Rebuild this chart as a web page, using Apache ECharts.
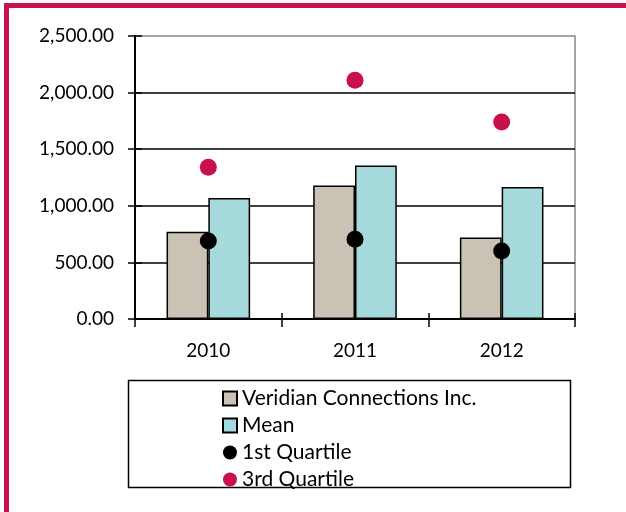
<!DOCTYPE html>
<html>
<head>
<meta charset="utf-8">
<style>
  html, body { margin: 0; padding: 0; background: #fff; }
  #chart { width: 626px; height: 512px; }
</style>
<script src="https://cdn.jsdelivr.net/npm/echarts@6/dist/echarts.min.js"></script>
</head>
<body>
<div id="chart"></div>
<script>
// Years on the category axis
const years = ['2010', '2011', '2012'];

// Series values per year
const veridian = [770, 1180, 720];
const mean = [1070, 1355, 1165];
const quartile1 = [690, 705, 600];
const quartile3 = [1340, 2110, 1740];

// Value axis range
const yMin = 0;
const yMax = 2500;
const yStep = 500;

const FONT = 'Lato';
const CRIMSON = '#c8104a';

function fmt(v) {
  return Number(v).toLocaleString('en-US', { minimumFractionDigits: 2, maximumFractionDigits: 2 });
}

const chart = echarts.init(document.getElementById('chart'), null, { renderer: 'canvas' });

chart.setOption({
  animation: false,
  backgroundColor: '#fff',
  textStyle: { fontFamily: FONT, color: '#000' },
  graphic: [
    // Frame along the top and left edge
    { type: 'rect', shape: { x: 4, y: 3, width: 622, height: 5 }, style: { fill: CRIMSON }, z: 100 },
    { type: 'rect', shape: { x: 4, y: 3, width: 5, height: 509 }, style: { fill: CRIMSON }, z: 100 },
    // Legend box
    { type: 'rect', shape: { x: 128.5, y: 380.5, width: 442, height: 107 }, style: { fill: '#fff', stroke: '#000', lineWidth: 1.5 }, z: 0 }
  ],
  grid: {
    left: 135, right: 51, top: 36, bottom: 193,
    show: true, borderColor: '#888', borderWidth: 1.5, backgroundColor: 'transparent'
  },
  legend: {
    orient: 'vertical',
    left: 217, top: 383,
    padding: 5,
    itemGap: 6,
    itemWidth: 14, itemHeight: 14,
    textStyle: { fontFamily: FONT, fontSize: 21, color: '#000' },
    data: [
      { name: 'Veridian Connections Inc.', icon: 'rect' },
      { name: 'Mean', icon: 'rect' },
      { name: '1st Quartile', icon: 'circle' },
      { name: '3rd Quartile', icon: 'circle' }
    ]
  },
  xAxis: [
    {
      type: 'category',
      data: years,
      axisLine: { lineStyle: { color: '#000', width: 2 } },
      axisTick: { show: true, length: 8, lineStyle: { color: '#000', width: 1.5 } },
      axisLabel: { fontFamily: FONT, fontSize: 19, color: '#000', margin: 22 }
    },
    {
      type: 'category',
      data: years,
      position: 'bottom',
      axisLine: { show: false },
      axisTick: { show: true, inside: true, length: 6, lineStyle: { color: '#000', width: 1.5 } },
      axisLabel: { show: false }
    }
  ],
  yAxis: [
    {
      type: 'value',
      min: yMin, max: yMax, interval: yStep,
      axisLine: { show: true, lineStyle: { color: '#000', width: 2 } },
      axisTick: { show: true, length: 7, lineStyle: { color: '#000', width: 1.5 } },
      axisLabel: { fontFamily: FONT, fontSize: 19, color: '#000', margin: 21, formatter: fmt },
      splitLine: { show: true, showMaxLine: false, lineStyle: { color: '#000', width: 1.5 } }
    },
    {
      type: 'value',
      position: 'left',
      min: yMin, max: yMax, interval: yStep,
      axisLine: { show: false },
      axisTick: { show: true, inside: true, length: 7, lineStyle: { color: '#000', width: 1.5 } },
      axisLabel: { show: false },
      splitLine: { show: false }
    }
  ],
  series: [
    {
      name: 'Veridian Connections Inc.',
      type: 'bar',
      data: veridian,
      barGap: '0%',
      barCategoryGap: '43%',
      itemStyle: { color: '#cbc2b6', borderColor: '#000', borderWidth: 1.5 },
      z: 2
    },
    {
      name: 'Mean',
      type: 'bar',
      data: mean,
      barGap: '0%',
      barCategoryGap: '43%',
      itemStyle: { color: '#a6dadd', borderColor: '#000', borderWidth: 1.5 },
      z: 2
    },
    {
      name: '1st Quartile',
      type: 'scatter',
      data: quartile1,
      symbol: 'circle',
      symbolSize: 17,
      itemStyle: { color: '#000', opacity: 1 },
      z: 5
    },
    {
      name: '3rd Quartile',
      type: 'scatter',
      data: quartile3,
      symbol: 'circle',
      symbolSize: 17,
      itemStyle: { color: CRIMSON, opacity: 1 },
      z: 5
    }
  ]
});
</script>
</body>
</html>
